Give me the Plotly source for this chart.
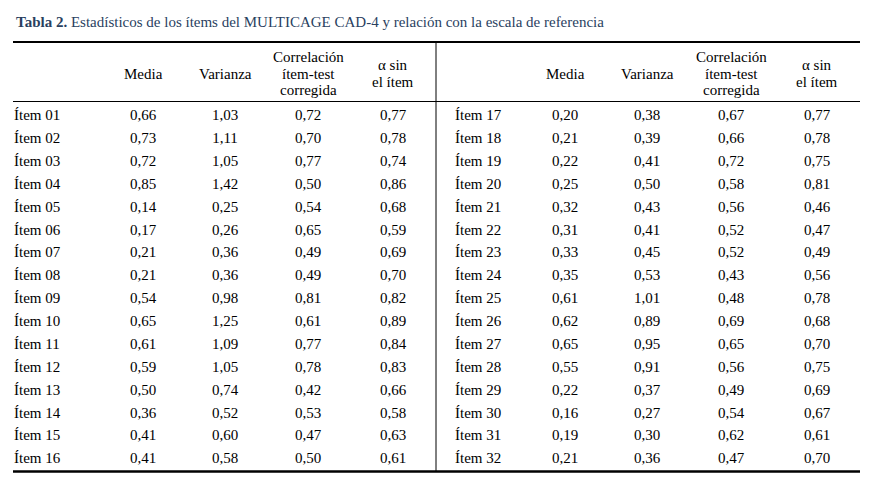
import plotly.graph_objects as go

# datos de la tabla
items_izq = ["Ítem %02d" % i for i in range(1, 17)]
items_der = ["Ítem %02d" % i for i in range(17, 33)]

media_izq = ["0,66", "0,73", "0,72", "0,85", "0,14", "0,17", "0,21", "0,21",
             "0,54", "0,65", "0,61", "0,59", "0,50", "0,36", "0,41", "0,41"]
varianza_izq = ["1,03", "1,11", "1,05", "1,42", "0,25", "0,26", "0,36", "0,36",
                "0,98", "1,25", "1,09", "1,05", "0,74", "0,52", "0,60", "0,58"]
correl_izq = ["0,72", "0,70", "0,77", "0,50", "0,54", "0,65", "0,49", "0,49",
              "0,81", "0,61", "0,77", "0,78", "0,42", "0,53", "0,47", "0,50"]
alfa_izq = ["0,77", "0,78", "0,74", "0,86", "0,68", "0,59", "0,69", "0,70",
            "0,82", "0,89", "0,84", "0,83", "0,66", "0,58", "0,63", "0,61"]

media_der = ["0,20", "0,21", "0,22", "0,25", "0,32", "0,31", "0,33", "0,35",
             "0,61", "0,62", "0,65", "0,55", "0,22", "0,16", "0,19", "0,21"]
varianza_der = ["0,38", "0,39", "0,41", "0,50", "0,43", "0,41", "0,45", "0,53",
                "1,01", "0,89", "0,95", "0,91", "0,37", "0,27", "0,30", "0,36"]
correl_der = ["0,67", "0,66", "0,72", "0,58", "0,56", "0,52", "0,52", "0,43",
              "0,48", "0,69", "0,65", "0,56", "0,49", "0,54", "0,62", "0,47"]
alfa_der = ["0,77", "0,78", "0,75", "0,81", "0,46", "0,47", "0,49", "0,56",
            "0,78", "0,68", "0,70", "0,75", "0,69", "0,67", "0,61", "0,70"]

encabezados = [["Media"], ["Varianza"], ["Correlación", "ítem-test", "corregida"], ["α sin", "el ítem"]]
titulo = "<b>Tabla 2.</b> Estadísticos de los ítems del MULTICAGE CAD-4 y relación con la escala de referencia"

W, H = 875, 500
fuente = dict(family="Liberation Serif", size=15, color="black")
filas = list(range(len(items_izq)))

# posiciones de columnas (px)
x_lab = [14, 455]
x_cols = [[143, 225, 308, 393], [565, 647, 731, 817]]

fig = go.Figure()
bloques = [
    (items_izq, [media_izq, varianza_izq, correl_izq, alfa_izq]),
    (items_der, [media_der, varianza_der, correl_der, alfa_der]),
]
for b, (etiquetas, columnas) in enumerate(bloques):
    fig.add_trace(go.Scatter(
        x=[x_lab[b]] * len(etiquetas), y=filas, text=etiquetas,
        mode="text", textposition="middle right", textfont=fuente,
        hoverinfo="skip", showlegend=False
    ))
    for xc, col in zip(x_cols[b], columnas):
        fig.add_trace(go.Scatter(
            x=[xc] * len(col), y=filas, text=col,
            mode="text", textposition="middle center", textfont=fuente,
            hoverinfo="skip", showlegend=False
        ))

def py(px):
    return 1 - px / H

anots = [dict(x=14, y=py(22), xref="x", yref="paper", text=titulo, showarrow=False,
              xanchor="left", yanchor="middle", font=dict(family="Liberation Serif", size=15))]
interlinea = 16.5
for b in range(2):
    for xc, lineas in zip(x_cols[b], encabezados):
        y0 = 73.5 - interlinea * (len(lineas) - 1) / 2
        for k, txt in enumerate(lineas):
            anots.append(dict(x=xc, y=py(y0 + k * interlinea), xref="x", yref="paper",
                              text=txt, showarrow=False, xanchor="center",
                              yanchor="middle", font=fuente))

def hline(ypx, w):
    return dict(type="line", xref="x", yref="paper", x0=13, x1=860,
                y0=py(ypx), y1=py(ypx), line=dict(color="black", width=w))

shapes = [
    hline(42, 2), hline(101.5, 1), hline(471.5, 2.5),
    dict(type="line", xref="x", yref="paper", x0=436, x1=436,
         y0=py(42), y1=py(471.5), line=dict(color="black", width=1)),
]

paso = 22.87
y_ini = 116.5
fig.update_layout(
    width=W, height=H,
    margin=dict(l=0, r=0, t=0, b=0),
    paper_bgcolor="white", plot_bgcolor="white",
    xaxis=dict(range=[0, W], visible=False, fixedrange=True),
    yaxis=dict(range=[(H - y_ini) / paso, -y_ini / paso], visible=False, fixedrange=True),
    annotations=anots,
    shapes=shapes,
)
fig.write_html("out.html", config={"displayModeBar": False},
               post_script="document.body.style.margin='0';")
